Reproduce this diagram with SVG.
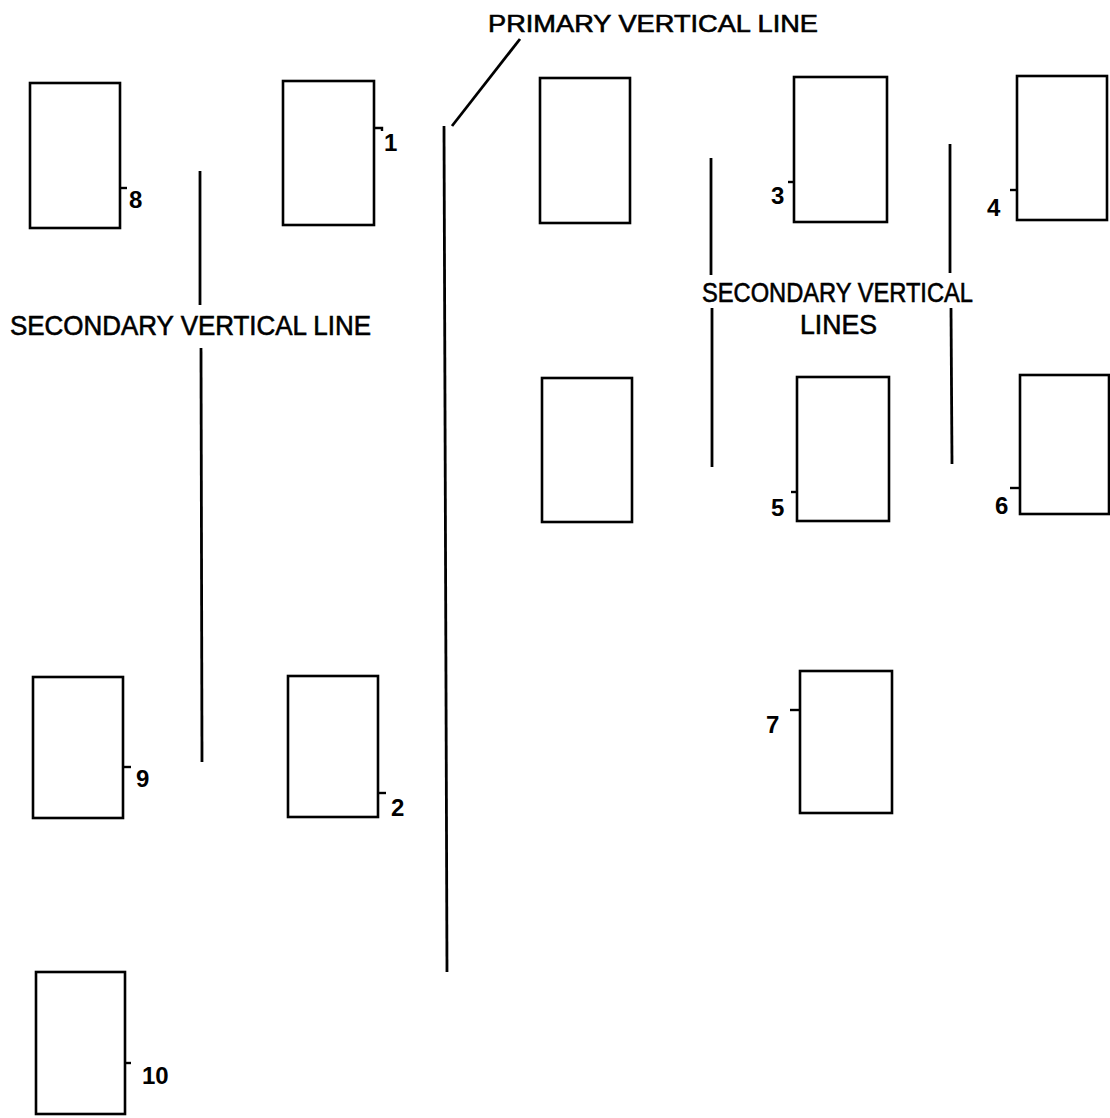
<svg xmlns="http://www.w3.org/2000/svg" width="1110" height="1118" viewBox="0 0 1110 1118">
<style>
.box{fill:none;stroke:#000;stroke-width:2.6}
.tick{fill:none;stroke:#000;stroke-width:2.4}
.ln{fill:none;stroke:#000;stroke-width:2.8;stroke-linecap:butt}
.lbl{font-family:"Liberation Sans",Arial,sans-serif;font-size:27px;fill:#000;stroke:#000;stroke-width:0.6}
.num{font-family:"Liberation Sans",Arial,sans-serif;font-size:24px;font-weight:bold;fill:#000}
</style>
<rect width="1110" height="1118" fill="#fff"/>
<g id="connectors">
<line class="ln" x1="200" y1="171" x2="200" y2="305"/>
<line class="ln" x1="201" y1="348" x2="202" y2="762"/>
<line class="ln" x1="444" y1="126" x2="447" y2="972"/>
<line class="ln" x1="452" y1="126" x2="520" y2="39"/>
<line class="ln" x1="711" y1="158" x2="711" y2="275"/>
<line class="ln" x1="712" y1="308" x2="712" y2="467"/>
<line class="ln" x1="950" y1="144" x2="950" y2="273"/>
<line class="ln" x1="951" y1="308" x2="952" y2="464"/>
</g>
<g id="labels">
<text class="lbl" x="488" y="32" textLength="330" lengthAdjust="spacingAndGlyphs" style="font-size:24px">PRIMARY VERTICAL LINE</text>
<text class="lbl" x="10" y="335" textLength="361" lengthAdjust="spacingAndGlyphs">SECONDARY VERTICAL LINE</text>
<text class="lbl" x="702" y="302" textLength="271" lengthAdjust="spacingAndGlyphs">SECONDARY VERTICAL</text>
<text class="lbl" x="800" y="334" textLength="77" lengthAdjust="spacingAndGlyphs">LINES</text>
</g>
<g id="node-8"><rect class="box" x="30" y="83" width="90" height="145"/><path class="tick" d="M120 188H127"/><text class="num" x="129" y="208">8</text></g>
<g id="node-1"><rect class="box" x="283" y="81" width="91" height="144"/><path class="tick" d="M374 128H382V131"/><text class="num" x="384" y="151">1</text></g>
<g id="node-a"><rect class="box" x="540" y="78" width="90" height="145"/></g>
<g id="node-3"><rect class="box" x="794" y="77" width="93" height="145"/><path class="tick" d="M788 182H794"/><text class="num" x="771" y="204">3</text></g>
<g id="node-4"><rect class="box" x="1017" y="76" width="90" height="144"/><path class="tick" d="M1010 190H1017"/><text class="num" x="987" y="216">4</text></g>
<g id="node-b"><rect class="box" x="542" y="378" width="90" height="144"/></g>
<g id="node-5"><rect class="box" x="797" y="377" width="92" height="144"/><path class="tick" d="M791 492H797"/><text class="num" x="771" y="516">5</text></g>
<g id="node-6"><rect class="box" x="1020" y="375" width="89" height="139"/><path class="tick" d="M1010 488H1020"/><text class="num" x="995" y="514">6</text></g>
<g id="node-9"><rect class="box" x="33" y="677" width="90" height="141"/><path class="tick" d="M123 767H131"/><text class="num" x="136" y="787">9</text></g>
<g id="node-2"><rect class="box" x="288" y="676" width="90" height="141"/><path class="tick" d="M378 793H386"/><text class="num" x="391" y="816">2</text></g>
<g id="node-7"><rect class="box" x="800" y="671" width="92" height="142"/><path class="tick" d="M790 710H800"/><text class="num" x="766" y="733">7</text></g>
<g id="node-10"><rect class="box" x="36" y="972" width="89" height="142"/><path class="tick" d="M125 1063H131"/><text class="num" x="142" y="1084">10</text></g>
</svg>
